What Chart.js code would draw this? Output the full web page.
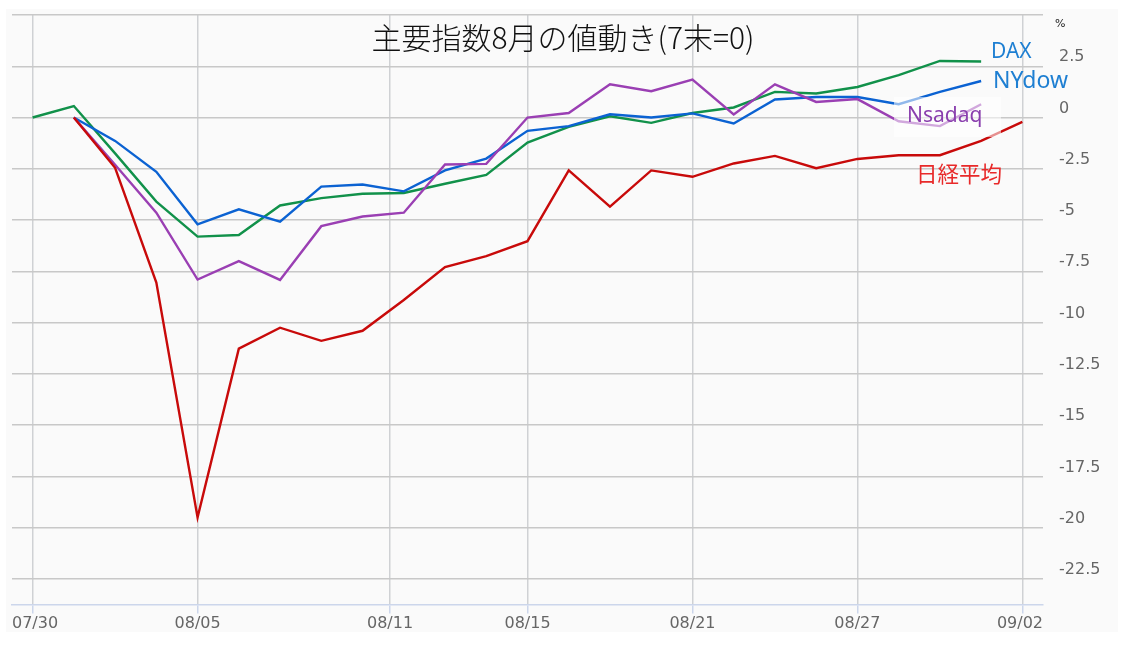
<!DOCTYPE html>
<html><head><meta charset="utf-8">
<script src="https://cdn.jsdelivr.net/npm/chart.js@4/dist/chart.umd.min.js"></script>
<style>html,body{margin:0;padding:0;background:#fff}#wrap{width:1130px;height:656px;position:relative}</style>
</head><body><div id="wrap"><canvas id="c"></canvas></div>
<script>
// ---- data ----
const tradingDates = ['07/30','07/31','08/01','08/02','08/05','08/06','08/07','08/08','08/09','08/12','08/13','08/14','08/15','08/16','08/19','08/20','08/21','08/22','08/23','08/26','08/27','08/28','08/29','08/30','09/02'];
const tickDates = ['07/30','08/05','08/11','08/15','08/21','08/27','09/02'];
const yTicks = [5,2.5,0,-2.5,-5,-7.5,-10,-12.5,-15,-17.5,-20,-22.5];
const dax    = [0,0.56,-1.75,-4.1,-5.81,-5.73,-4.29,-3.93,-3.72,-3.68,-3.23,-2.8,-1.22,-0.46,0.06,-0.26,0.22,0.49,1.25,1.17,1.49,2.07,2.76,2.73,null];
const nydow  = [null,0,-1.14,-2.65,-5.21,-4.48,-5.08,-3.37,-3.27,-3.6,-2.58,-2.0,-0.65,-0.42,0.16,0,0.2,-0.29,0.88,1.0,1.0,0.65,1.25,1.78,null];
const nasdaq = [null,0,-2.3,-4.64,-7.9,-7.0,-7.92,-5.3,-4.83,-4.64,-2.29,-2.26,0,0.22,1.62,1.28,1.85,0.15,1.62,0.76,0.9,-0.18,-0.42,0.65,null];
const nikkei = [null,0,-2.45,-8.05,-19.5,-11.27,-10.25,-10.89,-10.4,-8.9,-7.29,-6.76,-6.03,-2.58,-4.35,-2.58,-2.89,-2.24,-1.87,-2.47,-2.02,-1.84,-1.84,-1.14,-0.21];
const seriesNames = ['DAX','NYdow','Nsadaq','日経平均'];
const chartTitle = '主要指数8月の値動き(7末=0)';
const unitLabel = '%';
const YEAR = 2024;

// ---- helpers ----
function dayNum(s){const [m,d]=s.split('/').map(Number);return Date.UTC(YEAR,m-1,d)/86400000;}
const tradeDays = tradingDates.map(dayNum);
function posOf(s){
  const t = dayNum(s);
  for(let i=0;i<tradeDays.length-1;i++){
    if(t>=tradeDays[i] && t<=tradeDays[i+1]) return i + (t-tradeDays[i])/(tradeDays[i+1]-tradeDays[i]);
  }
  return t<tradeDays[0]?0:tradeDays.length-1;
}
const toPts = arr => arr.map((v,i)=>({x:i,y:v}));

const colors = {dax:'#11914a', nydow:'#0b62d2', nasdaq:'#9a3fb3', nikkei:'#c80a0a'};

const panelPlugin = {
  id:'panel',
  beforeDraw(chart){
    const ctx = chart.ctx;
    ctx.save();
    ctx.fillStyle = '#fafafa';
    ctx.fillRect(6,9,1112,623);
    ctx.restore();
  }
};

const clampPlugin = {
  id:'clampLabels',
  afterLayout(chart){
    const xs = chart.scales.x;
    const items = xs.getLabelItems();
    if(!items.length) return;
    items[0].options.textAlign = 'left';
    items[0].options.translation[0] = chart.chartArea.left;
    const last = items[items.length-1];
    last.options.textAlign = 'right';
    last.options.translation[0] = chart.chartArea.right;
  }
};

const textPlugin = {
  id:'texts',
  afterDatasetsDraw(chart){
    const ctx = chart.ctx;
    ctx.save();
    ctx.fillStyle = 'rgba(255,255,255,0.55)';
    ctx.fillRect(894,97,107,40);
    ctx.textBaseline = 'alphabetic';
    ctx.textAlign = 'left';
    ctx.fillStyle = '#1e7fd2';
    ctx.font = '21px "Noto Sans"';
    ctx.fillText(seriesNames[0], 991, 58);
    ctx.font = '23px "Noto Sans"';
    ctx.fillText(seriesNames[1], 993, 88);
    ctx.fillStyle = '#8a3fae';
    ctx.font = '21px "Noto Sans"';
    ctx.fillText(seriesNames[2], 907, 122);
    ctx.fillStyle = '#e82a2a';
    ctx.font = '21.5px "Noto Sans CJK JP"';
    ctx.fillText(seriesNames[3], 916, 182);
    ctx.fillStyle = '#111';
    ctx.textAlign = 'center';
    ctx.textBaseline = 'middle';
    ctx.font = '300 30px "Noto Sans CJK JP"';
    ctx.fillText(chartTitle, 563, 38);
    ctx.font = '11px "DejaVu Sans"';
    ctx.textAlign = 'left';
    ctx.fillStyle = '#222';
    ctx.fillText(unitLabel, 1055, 24);
    ctx.restore();
  }
};

const mk = (data,color)=>({data:toPts(data),borderColor:color,backgroundColor:color,borderWidth:2.4,pointRadius:0,tension:0,fill:false,spanGaps:false});

new Chart(document.getElementById('c'),{
  type:'line',
  data:{datasets:[mk(nikkei,colors.nikkei),mk(nasdaq,colors.nasdaq),mk(nydow,colors.nydow),mk(dax,colors.dax)]},
  options:{
    responsive:true, maintainAspectRatio:false, animation:false,
    layout:{padding:{left:12,top:15,right:0,bottom:0}},
    plugins:{legend:{display:false},title:{display:false},tooltip:{enabled:false}},
    scales:{
      x:{
        type:'linear', min:-0.5, max:24.5,
        afterFit(s){s.height=51.5; s.paddingLeft=0; s.paddingRight=0;},
        afterBuildTicks(s){s.ticks = tickDates.map(d=>({value:posOf(d)}));},
        ticks:{autoSkip:false,maxRotation:0,padding:1,color:'#666',font:{family:'"DejaVu Sans"',size:16},
          callback:(v,i)=>tickDates[i]},
        grid:{color:'#cfd1d4',lineWidth:1.5,drawTicks:true,tickLength:9,tickColor:'#ccd6eb'},
        border:{display:true,color:'#ccd6eb',width:1.5}
      },
      y:{
        type:'linear', position:'right', min:-23.75, max:5,
        afterFit(s){s.width=87; s.paddingTop=0; s.paddingBottom=0;},
        afterBuildTicks(s){s.ticks = yTicks.map(v=>({value:v}));},
        ticks:{padding:16,labelOffset:-9,color:'#666',font:{family:'"DejaVu Sans"',size:16},
          callback:(v)=> v===yTicks[0] ? '' : String(v)},
        grid:{color:'#c8c8c8',lineWidth:1.5,drawTicks:false},
        border:{display:false}
      }
    }
  },
  plugins:[panelPlugin,clampPlugin,textPlugin]
});
</script></body></html>
